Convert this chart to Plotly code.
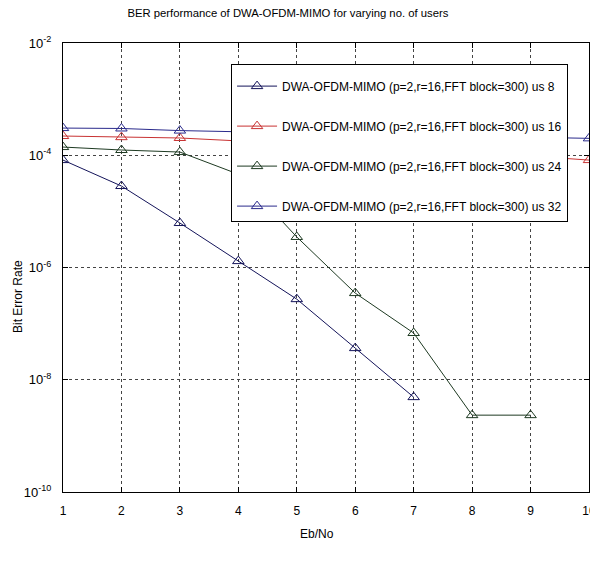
import plotly.graph_objects as go

ebno = [1, 2, 3, 4, 5, 6, 7, 8, 9, 10]
series_names = [
    "DWA-OFDM-MIMO (p=2,r=16,FFT block=300) us 8",
    "DWA-OFDM-MIMO (p=2,r=16,FFT block=300) us 16",
    "DWA-OFDM-MIMO (p=2,r=16,FFT block=300) us 24",
    "DWA-OFDM-MIMO (p=2,r=16,FFT block=300) us 32",
]
ber_us8 = [8.2e-5, 2.83e-5, 6.2e-6, 1.3e-6, 2.73e-7, 3.66e-8, 4.9e-9]
ber_us16 = [2.2e-4, 2.1e-4, 2.03e-4, 1.8e-4, 1.58e-4, 1.4e-4, 1.24e-4, 1.1e-4, 9.7e-5, 8.2e-5]
ber_us24 = [1.4e-4, 1.24e-4, 1.14e-4, 4.6e-5, 3.5e-6, 3.5e-7, 6.8e-8, 2.34e-9, 2.34e-9]
ber_us32 = [3.05e-4, 3.0e-4, 2.75e-4, 2.6e-4, 2.5e-4, 2.4e-4, 2.3e-4, 2.2e-4, 2.1e-4, 2.0e-4]
colors = ["#14145a", "#c83232", "#1e3a22", "#2a2a8c"]

ytick_vals = [1e-2, 1e-4, 1e-6, 1e-8, 1e-10]
ytick_text = ["10<sup>-2</sup>", "10<sup>-4</sup>", "10<sup>-6</sup>", "10<sup>-8</sup>", "10<sup>-10</sup>"]
xtick_vals = [1, 2, 3, 4, 5, 6, 7, 8, 9, 10]

font_family = "Liberation Sans, Arial, sans-serif"

fig = go.Figure()
all_y = [ber_us8, ber_us16, ber_us24, ber_us32]
for i, (name, yv) in enumerate(zip(series_names, all_y)):
    fig.add_trace(go.Scatter(
        x=ebno[:len(yv)], y=yv, name=name, mode="lines+markers",
        line=dict(color=colors[i], width=1),
        marker=dict(symbol="triangle-up-open", size=10, color=colors[i], line=dict(width=1)),
        legendgroup=f"g{i}",
    ))

fig.update_layout(
    width=590, height=561,
    margin=dict(l=63, r=1, t=43, b=69),
    paper_bgcolor="white", plot_bgcolor="white",
    font=dict(family=font_family, size=12, color="black"),
    title=dict(text="BER performance of DWA-OFDM-MIMO for varying no. of users",
               x=0.488, xref="container", xanchor="center",
               y=1 - 13 / 561, yref="container", yanchor="middle",
               font=dict(size=11.3, color="black")),
    showlegend=True,
    legend=dict(x=0.3195, y=0.953, xanchor="left", yanchor="top",
                bgcolor="white", bordercolor="black", borderwidth=1,
                font=dict(size=12, color="black"),
                title=dict(text=" ", font=dict(size=5)),
                traceorder="grouped", tracegroupgap=21,
                itemwidth=40),
)
fig.update_xaxes(
    range=[1, 10], tickvals=xtick_vals, ticktext=[str(v) for v in xtick_vals],
    showline=True, linecolor="black", linewidth=1, mirror="allticks",
    ticks="inside", ticklen=5, tickcolor="black",
    showgrid=True, gridcolor="#444444", griddash="dot", gridwidth=1,
    zeroline=False, tickfont=dict(size=12), ticklabelstandoff=8,
    ticklabeloverflow="allow", automargin=False,
)
fig.update_yaxes(
    type="log", range=[-10, -2], tickvals=ytick_vals, ticktext=ytick_text,
    showline=True, linecolor="black", linewidth=1, mirror="allticks",
    ticks="inside", ticklen=5, tickcolor="black",
    showgrid=True, gridcolor="#444444", griddash="dot", gridwidth=1,
    zeroline=False, tickfont=dict(size=13), ticklabelstandoff=8,
    automargin=False,
)
fig.add_annotation(text="Eb/No", xref="paper", yref="paper",
                   x=(317 - 63) / 526, y=-(534 - 492) / 449,
                   showarrow=False, xanchor="center", yanchor="middle",
                   font=dict(size=12))
fig.add_annotation(text="Bit Error Rate", xref="paper", yref="paper",
                   x=-(63 - 18) / 526, y=1 - (297 - 43) / 449, textangle=-90,
                   showarrow=False, xanchor="center", yanchor="middle",
                   font=dict(size=12))

fig.write_html("out.html")
